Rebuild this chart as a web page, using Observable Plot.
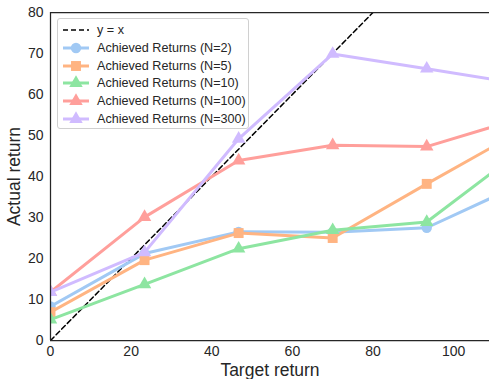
<!DOCTYPE html>
<html>
<head>
<meta charset="utf-8">
<script src="https://cdn.jsdelivr.net/npm/d3@7"></script>
<script src="https://cdn.jsdelivr.net/npm/@observablehq/plot@0.6"></script>
<style>
  html, body { margin: 0; padding: 0; background: #fff; }
  #wrap { position: relative; width: 489px; height: 379px; font-family: "Liberation Sans", Arial, sans-serif; }
  #legend { position: absolute; left: 57px; top: 18px; width: 192px; height: 111px;
    background: rgba(255,255,255,0.85); border: 1px solid #d0d0d0; border-radius: 3px; box-sizing: border-box; }
  #legend .row { position: absolute; left: 0; height: 18px; display: flex; align-items: center; }
  #legend .row span { font-size: 12.6px; color: #262626; position: absolute; left: 39px; white-space: nowrap; }
  #legend svg { position: absolute; left: 4px; }
</style>
</head>
<body>
<div id="wrap"></div>
<script>
const targets = [0, 23.33, 46.67, 70, 93.33, 116.67];
const seriesNames = ["Achieved Returns (N=2)", "Achieved Returns (N=5)", "Achieved Returns (N=10)", "Achieved Returns (N=100)", "Achieved Returns (N=300)"];
const n2 = [8.3, 21.2, 26.5, 26.4, 27.5, 38.1];
const n5 = [6.9, 19.6, 26.2, 25.0, 38.2, 51.1];
const n10 = [5.1, 13.7, 22.4, 26.9, 28.9, 46.3];
const n100 = [11.8, 30.1, 43.9, 47.6, 47.3, 54.2];
const n300 = [11.8, 21.5, 49.2, 69.9, 66.3, 62.6];
const colors = ["#a1c9f4", "#ffb482", "#8de5a1", "#ff9f9b", "#d0bbff"];
const symbols = ["circle", "square", "triangle", "triangle", "triangle"];
const symbolR = [5.2, 5.6, 5.0, 5.0, 5.0];
const identityLine = [0, 120];
const xTicks = [0, 20, 40, 60, 80, 100];
const yTicks = [0, 10, 20, 30, 40, 50, 60, 70, 80];
const xLabel = "Target return";
const yLabel = "Actual return";

const allSeries = [n2, n5, n10, n100, n300];
const rows = [];
allSeries.forEach((vals, s) => vals.forEach((v, i) => rows.push({series: s, x: targets[i], y: v})));
const idRows = identityLine.map(v => ({x: v, y: v}));

const marks = [
  Plot.line(idRows, {x: "x", y: "y", stroke: "#000", strokeWidth: 1.5, strokeDasharray: "5,3", clip: true})
];
allSeries.forEach((vals, s) => {
  const data = rows.filter(d => d.series === s);
  marks.push(Plot.line(data, {x: "x", y: "y", stroke: colors[s], strokeWidth: 3, clip: true}));
  marks.push(Plot.dot(data, {x: "x", y: "y", fill: colors[s], stroke: "none", symbol: () => symbols[s], r: symbolR[s], clip: true}));
});
marks.push(Plot.ruleX([0], {stroke: "#262626", strokeWidth: 1.25}));
marks.push(Plot.ruleY([0], {stroke: "#262626", strokeWidth: 1.25}));
marks.push(Plot.ruleY([80], {stroke: "#262626", strokeWidth: 1.25}));
marks.push(Plot.axisX({ticks: xTicks, tickSize: 0, tickPadding: 6, fontSize: 14, color: "#262626", label: null}));
marks.push(Plot.axisY({ticks: yTicks, tickSize: 0, tickPadding: 7, fontSize: 14, color: "#262626", label: null}));
marks.push(Plot.axisX({ticks: [], tickSize: 0, fontSize: 17.5, color: "#262626",
  label: xLabel, labelAnchor: "center", labelArrow: "none", labelOffset: 35}));
marks.push(Plot.axisY({ticks: [], tickSize: 0, fontSize: 17.5, color: "#262626",
  label: yLabel, labelAnchor: "center", labelArrow: "none", labelOffset: 43}));

const chart = Plot.plot({
  width: 489,
  height: 379,
  marginLeft: 50,
  marginRight: 0,
  marginTop: 12,
  marginBottom: 39,
  style: {fontFamily: "'Liberation Sans', Arial, sans-serif", color: "#262626", background: "#fff"},
  x: {domain: [0, 108.9]},
  y: {domain: [0, 80]},
  symbol: {type: "identity"},
  marks
});
const wrap = document.getElementById("wrap");
wrap.appendChild(chart);

// legend
const legend = document.createElement("div");
legend.id = "legend";
const entries = [{label: "y = x", dashed: true}].concat(seriesNames.map((n, i) => ({label: n, idx: i})));
entries.forEach((e, k) => {
  const row = document.createElement("div");
  row.className = "row";
  row.style.top = (2 + k * 17.8) + "px";
  row.style.width = "100%";
  const svg = d3.create("svg").attr("width", 28).attr("height", 18);
  if (e.dashed) {
    svg.append("line").attr("x1", 1).attr("x2", 27).attr("y1", 9).attr("y2", 9)
      .attr("stroke", "#000").attr("stroke-width", 1.5).attr("stroke-dasharray", "5,3");
  } else {
    const c = colors[e.idx];
    svg.append("line").attr("x1", 1).attr("x2", 27).attr("y1", 9).attr("y2", 9)
      .attr("stroke", c).attr("stroke-width", 3);
    const symMap = {circle: d3.symbolCircle, square: d3.symbolSquare, triangle: d3.symbolTriangle};
    const r = symbolR[e.idx];
    svg.append("path").attr("transform", "translate(14,9)")
      .attr("d", d3.symbol(symMap[symbols[e.idx]], r * r * Math.PI)()).attr("fill", c);
  }
  row.appendChild(svg.node());
  const span = document.createElement("span");
  span.textContent = e.label;
  row.appendChild(span);
  legend.appendChild(row);
});
wrap.appendChild(legend);
</script>
</body>
</html>
